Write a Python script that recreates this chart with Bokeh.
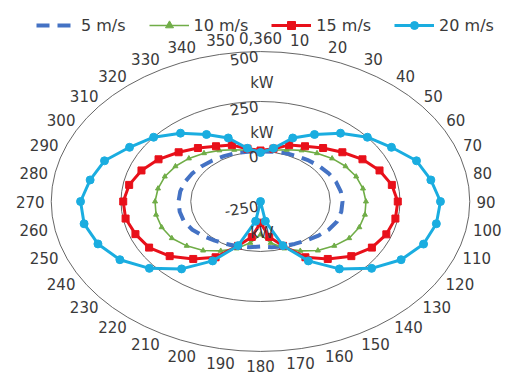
import numpy as np
from bokeh.plotting import figure
from bokeh.models import Range1d, Legend, LegendItem, ColumnDataSource
from bokeh.core.properties import value
from bokeh.embed import file_html
from bokeh.resources import INLINE

# ---------------- data ----------------
angles = list(range(0, 360, 10))
angle_labels = ["0,360"] + [str(a) for a in range(10, 360, 10)]

radial_min = -250
radial_max = 500
ring_values = [0, 250, 500]
radial_tick_values = [500, 250, 0, -250]
radial_tick_labels = ["500", "250", "0", "-250"]
unit_tick_values = [500, 250, -250]
unit_label = "kW"

series_names = ["5 m/s", "10 m/s", "15 m/s", "20 m/s"]

p_5 = [0, 3, 8, 12, 18, 25, 32, 38, 42, 44, 44, 42, 32, 18, 5, -5, -12, -18,
       -25, -18, -12, -5, 5, 18, 32, 42, 44, 44, 42, 38, 32, 25, 18, 12, 8, 3]
p_10 = [2, 10, 25, 45, 65, 85, 102, 115, 123, 128, 130, 127, 117, 95, 70, 35, 0, -40,
        -85, -40, 0, 35, 70, 95, 117, 127, 130, 128, 123, 115, 102, 85, 65, 45, 25, 10]
p_15 = [5, 18, 50, 69, 99, 133, 172, 204, 228, 242, 241, 230, 211, 175, 125, 72, -14, -70,
        -144, -70, -14, 72, 125, 175, 211, 227, 241, 242, 228, 204, 172, 133, 99, 69, 50, 18]
p_20 = [-5, 20, 88, 137, 196, 250, 292, 345, 370, 395, 390, 372, 332, 270, 190, 93, -15, -150,
        -250, -150, -15, 93, 190, 270, 332, 370, 392, 395, 370, 345, 292, 250, 196, 137, 88, 20]

# ---------------- geometry ----------------
W, H = 508, 374
cx_px, cy_px = 260, 201
sx, sy = 0.279, 0.2

def to_xy(vals, angs):
    th = np.radians(np.asarray(angs, dtype=float))
    r = np.asarray(vals, dtype=float) - radial_min
    return r * np.sin(th), r * np.cos(th)

p = figure(width=W, height=H, output_backend="svg", toolbar_location=None,
           x_range=Range1d(-cx_px / sx, (W - cx_px) / sx),
           y_range=Range1d(-(H - cy_px) / sy, cy_px / sy),
           min_border=0)
p.axis.visible = False
p.grid.visible = False
p.outline_line_color = None
p.background_fill_color = "white"

font = value("DejaVu Sans")
txt_color = "#3a3a3a"

# rings
ring_r = [v - radial_min for v in ring_values]
p.ellipse(x=[0] * len(ring_r), y=[0] * len(ring_r),
          width=[2 * r for r in ring_r], height=[2 * r for r in ring_r],
          fill_color=None, line_color="#555555", line_width=0.9)

# series
styles = [
    dict(color="#4472C4", width=4, dash="13 8", marker=None, size=0),
    dict(color="#70AD47", width=1.6, dash="solid", marker="triangle", size=5),
    dict(color="#E8101A", width=3, dash="solid", marker="square", size=7),
    dict(color="#1AADE0", width=3, dash="solid", marker="circle", size=8),
]
items = []
for name, vals, st in zip(series_names, [p_5, p_10, p_15, p_20], styles):
    x, y = to_xy(vals + vals[:1], angles + angles[:1])
    rs = [p.line(x, y, line_color=st["color"], line_width=st["width"],
                 line_dash=st["dash"], line_join="round")]
    if st["marker"]:
        mx, my = to_xy(vals, angles)
        rs.append(p.scatter(mx, my, marker=st["marker"], size=st["size"],
                            fill_color=st["color"], line_color=st["color"]))
    items.append(LegendItem(label=name, renderers=rs))

legend = Legend(items=items, orientation="horizontal", location=(36, 339),
                glyph_width=40, glyph_height=20, label_standoff=5, spacing=23,
                padding=0, margin=0, border_line_color=None,
                background_fill_alpha=0,
                label_text_font="DejaVu Sans", label_text_font_size="16px",
                label_text_color=txt_color)
p.add_layout(legend, "center")

# angle labels: anchored on the outer ring, pushed outward by a gap + half the text box
th = np.radians(angles)
r_out = radial_max - radial_min
char_w, txt_h, gap = 9.3, 14, 7
widths = np.array([sum(4.8 if c == "," else char_w for c in t) for t in angle_labels])
src = ColumnDataSource(dict(
    x=r_out * np.sin(th), y=r_out * np.cos(th), t=angle_labels,
    xo=np.sin(th) * (gap + widths / 2),
    yo=-np.cos(th) * (gap + txt_h / 2),
))
p.text(x="x", y="y", text="t", x_offset="xo", y_offset="yo", source=src,
       text_font=font, text_font_size="15px",
       text_color=txt_color, text_align="center", text_baseline="middle")

# radial tick labels
ry = [v - radial_min for v in radial_tick_values]
p.text(x=[-8] * len(ry), y=[r - 20 for r in ry], text=radial_tick_labels,
       text_font=font, text_font_size="15px", text_color=txt_color,
       text_align="right", text_baseline="middle", angle=0.15)
uy = [v - radial_min - 155 for v in unit_tick_values]
p.text(x=[5] * len(uy), y=uy, text=[unit_label] * len(uy),
       text_font=font, text_font_size="15px", text_color=txt_color,
       text_align="center", text_baseline="middle")

open("out.html", "w").write(file_html(p, INLINE))
